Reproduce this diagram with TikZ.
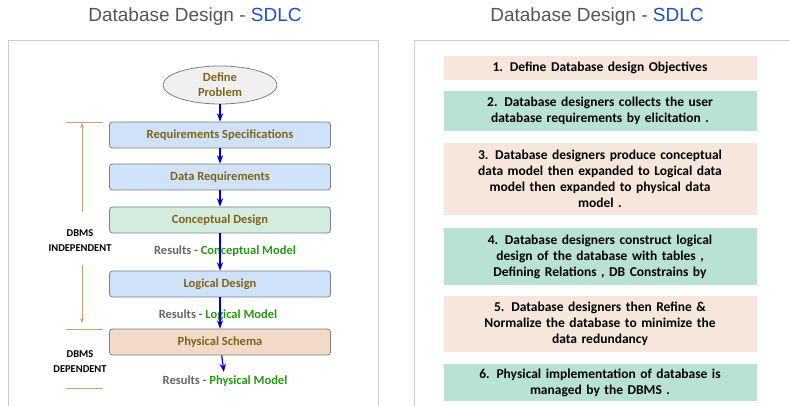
\documentclass[tikz,border=0pt]{standalone}
\usepackage{fontspec}
\setmainfont{Carlito}
\setsansfont{Liberation Sans}
\usetikzlibrary{arrows.meta}
\usetikzlibrary{positioning}
\usetikzlibrary{shapes.geometric}
\definecolor{boxblue}{RGB}{208,226,250}
\definecolor{boxgreen}{RGB}{212,236,224}
\definecolor{boxtan}{RGB}{242,218,200}
\definecolor{rowpeach}{RGB}{246,230,220}
\definecolor{rowteal}{RGB}{184,226,212}
\definecolor{olivetext}{RGB}{125,100,25}
\definecolor{resgreen}{RGB}{40,150,20}
\definecolor{titlegray}{RGB}{85,85,85}
\definecolor{sdlcblue}{RGB}{30,80,200}
\definecolor{bracebrown}{RGB}{200,160,120}
\tikzset{
  stagebox/.style={draw=gray, thick, rounded corners=3pt, minimum width=221pt, minimum height=26pt,
    text=olivetext, font=\bfseries\fontsize{12.5}{14}\selectfont},
  result/.style={text=gray!80!black, font=\bfseries\fontsize{12.5}{14}\selectfont},
  rowbox/.style={minimum width=313pt, text width=305pt, align=center,
    font=\bfseries\fontsize{13.5}{16}\selectfont},
  flow/.style={->, >=Stealth, very thick, blue!80!black},
  side/.style={font=\bfseries\fontsize{10.5}{15}\selectfont, align=center},
}
\begin{document}
\begin{tikzpicture}[x=1pt, y=-1pt]
        \useasboundingbox (0,0) rectangle (790,406);
        % titles
        \node[font=\sffamily\fontsize{19}{22}\selectfont, text=titlegray] (ltitle) at (195,17) {Database Design - \textcolor{sdlcblue}{SDLC}};
        \node[font=\sffamily\fontsize{19}{22}\selectfont, text=titlegray] (rtitle) at (597,17) {Database Design - \textcolor{sdlcblue}{SDLC}};
        % panels
        \draw[gray!40] (8,406) -- (8,40) -- (378,40) -- (378,406);
        \draw[gray!40] (414,406) -- (414,40) -- (790,40);

        % left flow
        \node[ellipse, draw=gray, thick, fill=gray!12, minimum width=114pt, minimum height=38pt, align=center,
          text=olivetext, font=\bfseries\fontsize{12.5}{15}\selectfont, inner sep=0pt] (define) at (220,85) {Define\\Problem};
        \node[stagebox, fill=boxblue] (reqspec) at (220,135) {Requirements Specifications};
        \node[stagebox, fill=boxblue] (datareq) at (220,177) {Data Requirements};
        \node[stagebox, fill=boxgreen] (concept) at (220,220) {Conceptual Design};
        \node[result] (rconcept) at (225,251) {Results - \textcolor{resgreen}{Conceptual Model}};
        \node[stagebox, fill=boxblue] (logical) at (220,284) {Logical Design};
        \node[result] (rlogical) at (218,315) {Results - \textcolor{resgreen}{Logical Model}};
        \node[stagebox, fill=boxtan] (physical) at (220,342) {Physical Schema};
        \node[result] (rphysical) at (225,381) {Results - \textcolor{resgreen}{Physical Model}};

        \draw[flow] (define) -- (reqspec);
        \draw[flow] (reqspec) -- (datareq);
        \draw[flow] (datareq) -- (concept);
        \draw[flow] (concept) -- (logical);
        \draw[flow] (logical) -- (physical);
        \draw[flow] (physical) -- (rphysical);

        % side brackets
        \draw[bracebrown] (66,122) -- (103,122);
        \draw[bracebrown] (66,329) -- (103,329);
        \draw[bracebrown] (66,388) -- (103,388);
        \node[side] (indep) at (80,241) {DBMS\\INDEPENDENT};
        \node[side] (dep) at (80,362) {DBMS\\DEPENDENT};
        \coordinate (indtop) at (82,123);
        \coordinate (indbot) at (82,323);
        \draw[->, >=Stealth, bracebrown] (82,212) -- (indtop);
        \draw[->, >=Stealth, bracebrown] (82,265) -- (indbot);

        % right list
        \node[rowbox, fill=rowpeach, minimum height=24pt] (one) at (600,68) {1. Define Database design Objectives};
        \node[rowbox, fill=rowteal, minimum height=40pt] (two) at (600,111) {2. Database designers collects the user\\database requirements by elicitation .};
        \node[rowbox, fill=rowpeach, minimum height=72pt] (three) at (600,179) {3. Database designers produce conceptual\\data model then expanded to Logical data\\model then expanded to physical data\\model .};
        \node[rowbox, fill=rowteal, minimum height=57pt] (four) at (600,256.5) {4. Database designers construct logical\\design of the database with tables ,\\Defining Relations , DB Constrains by};
        \node[rowbox, fill=rowpeach, minimum height=56pt] (five) at (600,324) {5. Database designers then Refine \&\\Normalize the database to minimize the\\data redundancy};
        \node[rowbox, fill=rowteal, minimum height=37pt] (six) at (600,382.5) {6. Physical implementation of database is\\managed by the DBMS .};
      \end{tikzpicture}
\end{document}
